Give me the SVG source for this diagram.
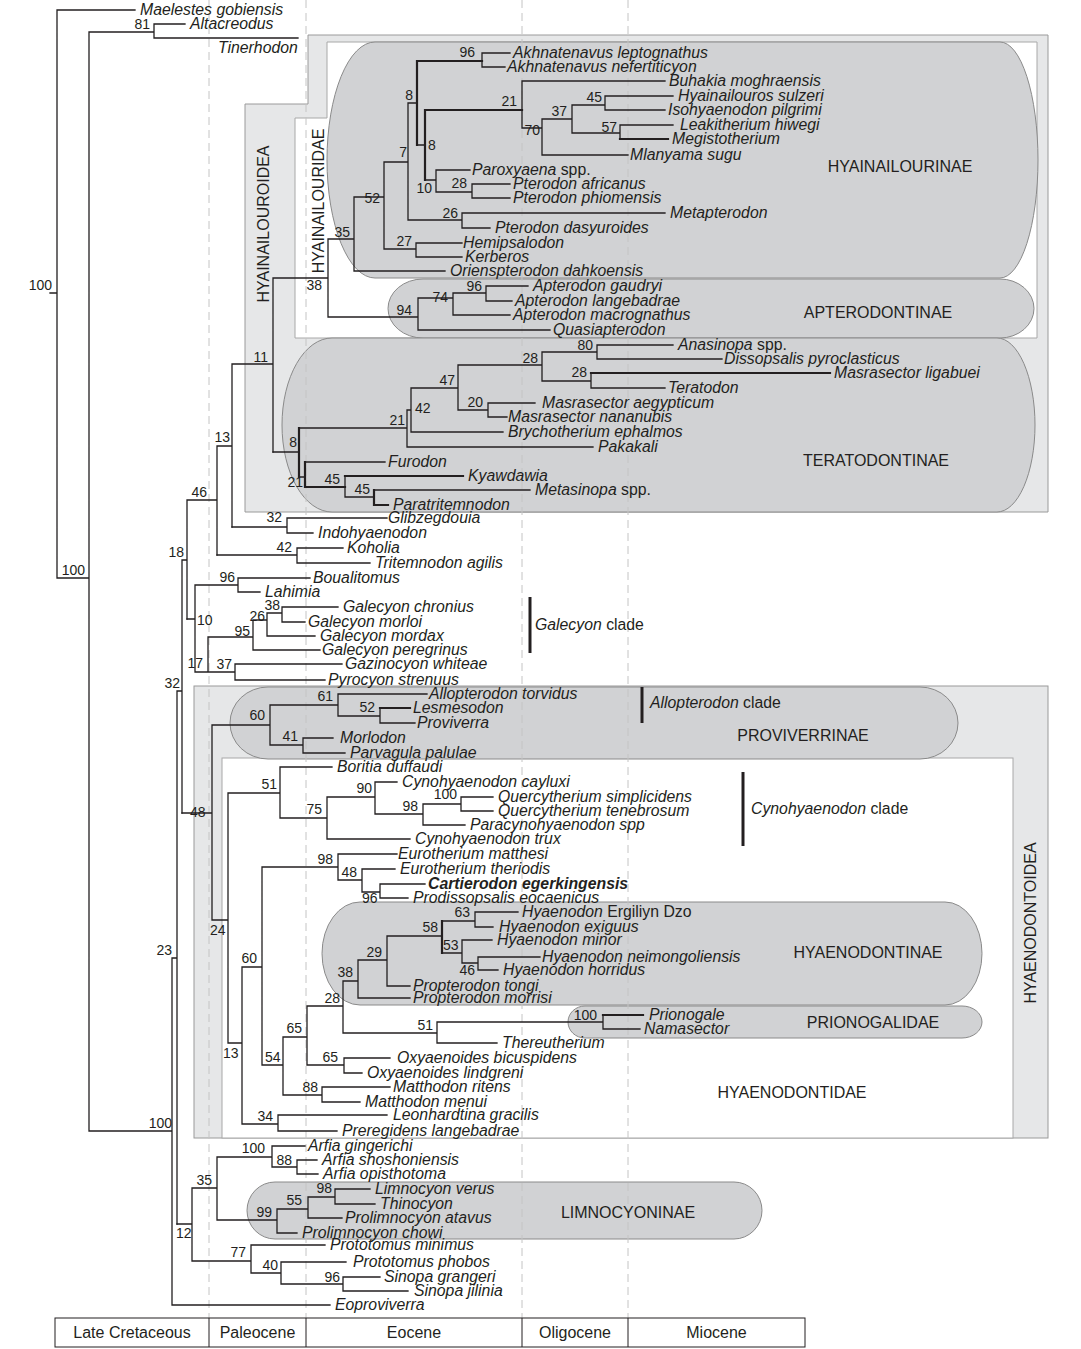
<svg xmlns="http://www.w3.org/2000/svg" width="1081" height="1349" viewBox="0 0 1081 1349">
<style>
.tx{font-family:"Liberation Sans",Arial,sans-serif;font-size:15.8px;font-style:italic;fill:#231f20}
.r{font-style:normal}
.n{font-family:"Liberation Sans",Arial,sans-serif;font-size:14px;fill:#231f20}
.ne{font-family:"Liberation Sans",Arial,sans-serif;font-size:14px;fill:#231f20;text-anchor:end}
.cl{font-family:"Liberation Sans",Arial,sans-serif;font-size:16px;fill:#231f20;text-anchor:middle}
.tb{font-family:"Liberation Sans",Arial,sans-serif;font-size:16px;fill:#231f20;text-anchor:middle}
.shape{fill:#d1d2d4;stroke:#8a8a8a;stroke-width:1}
.light{fill:#e6e7e8;stroke:#9a9a9a;stroke-width:1}
.white{fill:#ffffff;stroke:#a8a8a8;stroke-width:1}
.dash{stroke:#c4c4c4;stroke-width:1;stroke-dasharray:8 5;fill:none}
.br{fill:none;stroke:#231f20;stroke-width:1.3;stroke-linecap:square}
.thick{fill:none;stroke:#231f20;stroke-width:2.2;stroke-linecap:square}
.bar{stroke:#231f20;stroke-width:3}
</style>

<g id="boxes">
  <polygon id="box-hyainailouroidea" class="light" points="308,35 1048,35 1048,512 245,512 245,104 308,104"/>
  <polygon id="box-hyainailouridae" class="white" points="327,42 1037,42 1037,338 295,338 295,118 327,118"/>
  <rect id="box-hyaenodontoidea" class="light" x="194" y="686" width="854" height="452"/>
  <rect id="box-hyaenodontidae" class="white" x="222" y="758" width="791" height="380"/>
</g>

<g id="clade-shapes">
  <path id="shape-hyainailourinae" class="shape" d="M375,42H1000A38,118 0 0 1 1038,160A38,118 0 0 1 1000,278H375A48,118 0 0 1 327,160A48,118 0 0 1 375,42Z"/>
  <path id="shape-apterodontinae" class="shape" d="M423,279H1000A34,29.5 0 0 1 1034,308.5A34,29.5 0 0 1 1000,338H423A35,29.5 0 0 1 388,308.5A35,29.5 0 0 1 423,279Z"/>
  <path id="shape-teratodontinae" class="shape" d="M332,338H997A38,87 0 0 1 1035,425A38,87 0 0 1 997,512H332A50,87 0 0 1 282,425A50,87 0 0 1 332,338Z"/>
  <path id="shape-proviverrinae" class="shape" d="M268,687H920A38,36 0 0 1 958,723A38,36 0 0 1 920,759H268A38,36 0 0 1 230,723A38,36 0 0 1 268,687Z"/>
  <path id="shape-hyaenodontinae" class="shape" d="M360,902H945A37,51.5 0 0 1 982,953.5A37,51.5 0 0 1 945,1005H360A38,51.5 0 0 1 322,953.5A38,51.5 0 0 1 360,902Z"/>
  <path id="shape-prionogalidae" class="shape" d="M585,1006H962A20,16 0 0 1 982,1022A20,16 0 0 1 962,1038H585A17,16 0 0 1 568,1022A17,16 0 0 1 585,1006Z"/>
  <path id="shape-limnocyoninae" class="shape" d="M275,1182H734A28,28.5 0 0 1 762,1210.5A28,28.5 0 0 1 734,1239H275A28,28.5 0 0 1 247,1210.5A28,28.5 0 0 1 275,1182Z"/>
</g>

<g id="time-lines">
  <line class="dash" x1="209" y1="0" x2="209" y2="1318"/>
  <line class="dash" x1="306" y1="0" x2="306" y2="1318"/>
  <line class="dash" x1="522" y1="0" x2="522" y2="1318"/>
  <line class="dash" x1="628" y1="0" x2="628" y2="1318"/>
</g>

<g id="connectors">
  <path class="br" d="M57,10H135M50,293H57M57,10V578M57,578H89M89,32V1131M89,32H154M154,24V38M154,24H185M154,38H298M89,1131H172M172,958V1305M172,1305H330M172,958H177M177,691V1224M177,691H182M182,560V813M182,560H187M187,500V619M187,500H217M217,446V555M217,446H232M232,364V527M232,364H273M273,278V452M273,278H328M328,239V317M328,239H354M354,197V271M354,271H445M354,197H384M384,162V249M384,162H408M408,103V220M408,103H417M482,53V67M482,53H510M482,67H505M417,145H425M522,81V128M522,81H665M522,128H542M542,119V155M542,155H628M542,119H572M572,105V133M572,105H605M605,96V110M605,96H673M605,110H665M572,133H620M620,125V139M620,125H673M425,180H436M436,170V192M436,170H470M436,192H472M472,184V198M472,184H510M472,198H510M408,220H462M462,213V228M462,213H665M462,228H490M384,249H416M416,243V257M416,243H462M416,257H462M328,317H418M418,298V330M418,330H550M418,298H453M453,293V315M453,315H510M453,293H486M486,286V301M486,286H528M486,301H512"/>
  <path class="br" d="M273,452H299M299,428H407M407,410V447M407,447H593M407,410H411M411,388V432M411,432H503M411,388H458M458,365V410M458,365H542M542,352V381M542,352H597M597,345V359M597,345H673M597,359H722M542,381H591M591,373V388M591,388H665M458,410H488M488,403V417M488,403H535M488,417H507M299,477H305M305,462H385M345,476V497M345,497H374M374,490H530M232,527H287M287,518V533M287,518H387M287,533H313M217,555H297M297,548V563M297,548H343M297,563H370M187,619H195M195,585V672M195,585H238M238,578V592M238,578H310M238,592H260M195,672H235M208,637V672M208,637H253M253,620V650M253,650H320M253,620H267M267,613V636M267,636H315M267,613H282M282,607V622M282,607H338M282,622H305M235,664V680M235,664H342M235,680H325"/>
  <path class="br" d="M182,813H212M212,725V920M212,725H270M270,705V745M270,705H338M338,694V716M338,694H427M338,716H380M380,708V723M380,723H415M270,745H303M303,738V753M303,738H333M303,753H345M212,920H228M228,793V1043M228,793H280M280,767V818M280,767H332M280,818H327M327,797V839M327,839H410M327,797H375M375,782V814M375,782H397M375,814H423M423,804V825M423,825H465M423,804H461M461,797V811M461,797H493M461,811H493M228,1043H242M242,967V1124M242,967H262M262,867V1065M262,867H338M338,854V880M338,854H397M338,880H362M362,869V892M362,869H395M362,892H380M380,884V898M380,884H425M380,898H408M262,1065H283M283,1037V1095M283,1037H307M307,1006V1065M307,1006H343M343,981V1033M343,981H358M358,960V998M358,998H410M358,960H387M387,936V986M387,986H410M387,936H442M442,921H475M475,912V927M475,912H518M475,927H493M442,953H462M462,940V963M462,940H492M462,963H478M478,957V970M478,957H540M478,970H498M343,1033H437M437,1022V1043M437,1022H603M603,1015V1029M603,1029H640M437,1043H497M307,1065H344M344,1058V1073M344,1058H390M344,1073H362M283,1095H322M322,1087V1102M322,1087H390M322,1102H360M242,1124H278M278,1115V1131M278,1115H387M278,1131H337"/>
  <path class="br" d="M177,1224H192M192,1188V1261M192,1188H217M217,1157V1220M217,1157H272M272,1146V1167M272,1146H305M272,1167H297M297,1160V1174M297,1160H317M297,1174H318M217,1220H277M277,1209V1233M277,1209H308M308,1197V1218M308,1197H335M335,1189V1204M335,1189H370M335,1204H375M308,1218H342M277,1233H297M192,1261H251M251,1245V1273M251,1245H325M251,1273H281M281,1262V1284M281,1262H346M281,1284H343M343,1277V1291M343,1277H380M343,1291H408"/>
  <path class="thick" d="M417,61V145M417,61H482M425,110V180M425,110H522M620,139H668M591,373H830M299,428V477M305,462V487M305,487H345M345,476H463M374,490V505M374,505H388M380,708H410M442,921V953M603,1015H643"/>
</g>

<g id="clade-bars">
  <line class="bar" x1="530" y1="597" x2="530" y2="653"/>
  <line class="bar" x1="642" y1="687" x2="642" y2="723"/>
  <line class="bar" x1="743" y1="772" x2="743" y2="846"/>
</g>

<g id="support-values">
  <text class="ne" x="150" y="29">81</text>
  <text class="ne" x="52" y="290">100</text>
  <text class="ne" x="85" y="575">100</text>
  <text class="ne" x="172" y="1128">100</text>
  <text class="ne" x="172" y="955">23</text>
  <text class="ne" x="180" y="688">32</text>
  <text class="ne" x="184" y="557">18</text>
  <text class="ne" x="207" y="497">46</text>
  <text class="ne" x="230" y="442">13</text>
  <text class="ne" x="268" y="362">11</text>
  <text class="ne" x="322" y="290">38</text>
  <text class="ne" x="350" y="237">35</text>
  <text class="ne" x="380" y="203">52</text>
  <text class="ne" x="407" y="157">7</text>
  <text class="ne" x="413" y="100">8</text>
  <text class="n" x="428" y="150">8</text>
  <text class="ne" x="475" y="57">96</text>
  <text class="ne" x="517" y="106">21</text>
  <text class="ne" x="540" y="135">70</text>
  <text class="ne" x="567" y="116">37</text>
  <text class="ne" x="602" y="102">45</text>
  <text class="ne" x="617" y="132">57</text>
  <text class="ne" x="432" y="193">10</text>
  <text class="ne" x="467" y="188">28</text>
  <text class="ne" x="458" y="218">26</text>
  <text class="ne" x="412" y="246">27</text>
  <text class="ne" x="412" y="315">94</text>
  <text class="ne" x="448" y="302">74</text>
  <text class="ne" x="482" y="291">96</text>
  <text class="ne" x="297" y="447">8</text>
  <text class="ne" x="405" y="425">21</text>
  <text class="n" x="415" y="413">42</text>
  <text class="ne" x="455" y="385">47</text>
  <text class="ne" x="538" y="363">28</text>
  <text class="ne" x="593" y="350">80</text>
  <text class="ne" x="587" y="377">28</text>
  <text class="ne" x="483" y="407">20</text>
  <text class="ne" x="303" y="487">21</text>
  <text class="ne" x="340" y="484">45</text>
  <text class="ne" x="370" y="494">45</text>
  <text class="ne" x="282" y="522">32</text>
  <text class="ne" x="292" y="552">42</text>
  <text class="ne" x="235" y="582">96</text>
  <text class="n" x="197" y="625">10</text>
  <text class="ne" x="280" y="610">38</text>
  <text class="ne" x="265" y="621">26</text>
  <text class="ne" x="250" y="636">95</text>
  <text class="ne" x="203" y="668">17</text>
  <text class="ne" x="232" y="669">37</text>
  <text class="n" x="190" y="817">48</text>
  <text class="ne" x="265" y="720">60</text>
  <text class="ne" x="333" y="701">61</text>
  <text class="ne" x="375" y="712">52</text>
  <text class="ne" x="298" y="741">41</text>
  <text class="ne" x="277" y="789">51</text>
  <text class="ne" x="322" y="814">75</text>
  <text class="ne" x="372" y="793">90</text>
  <text class="ne" x="418" y="811">98</text>
  <text class="ne" x="457" y="799">100</text>
  <text class="ne" x="333" y="864">98</text>
  <text class="n" x="210" y="935">24</text>
  <text class="ne" x="357" y="877">48</text>
  <text class="n" x="362" y="903">96</text>
  <text class="ne" x="470" y="917">63</text>
  <text class="ne" x="438" y="932">58</text>
  <text class="n" x="443" y="950">53</text>
  <text class="ne" x="475" y="975">46</text>
  <text class="ne" x="382" y="957">29</text>
  <text class="ne" x="353" y="977">38</text>
  <text class="ne" x="340" y="1003">28</text>
  <text class="ne" x="257" y="963">60</text>
  <text class="ne" x="597" y="1020">100</text>
  <text class="ne" x="433" y="1030">51</text>
  <text class="ne" x="302" y="1033">65</text>
  <text class="n" x="223" y="1058">13</text>
  <text class="n" x="265" y="1062">54</text>
  <text class="ne" x="338" y="1062">65</text>
  <text class="ne" x="318" y="1092">88</text>
  <text class="ne" x="273" y="1121">34</text>
  <text class="ne" x="265" y="1153">100</text>
  <text class="ne" x="292" y="1165">88</text>
  <text class="ne" x="212" y="1185">35</text>
  <text class="ne" x="332" y="1193">98</text>
  <text class="ne" x="302" y="1205">55</text>
  <text class="ne" x="272" y="1217">99</text>
  <text class="n" x="176" y="1238">12</text>
  <text class="ne" x="246" y="1257">77</text>
  <text class="ne" x="278" y="1270">40</text>
  <text class="ne" x="340" y="1282">96</text>
</g>

<g id="taxa">
  <g id="t-maelestes"><text class="tx" x="140" y="15">Maelestes gobiensis</text></g>
  <g id="t-altacreodus"><text class="tx" x="190" y="29">Altacreodus</text></g>
  <g id="t-tinerhodon"><text class="tx" x="218" y="53">Tinerhodon</text></g>
  <g id="t-akh-lep"><text class="tx" x="513" y="58">Akhnatenavus leptognathus</text></g>
  <g id="t-akh-nef"><text class="tx" x="507" y="72">Akhnatenavus nefertiticyon</text></g>
  <g id="t-buhakia"><text class="tx" x="669" y="86">Buhakia moghraensis</text></g>
  <g id="t-hyainailouros"><text class="tx" x="678" y="101">Hyainailouros sulzeri</text></g>
  <g id="t-isohyaenodon"><text class="tx" x="668" y="115">Isohyaenodon pilgrimi</text></g>
  <g id="t-leakitherium"><text class="tx" x="680" y="130">Leakitherium hiwegi</text></g>
  <g id="t-megistotherium"><text class="tx" x="672" y="144">Megistotherium</text></g>
  <g id="t-mlanyama"><text class="tx" x="630" y="160">Mlanyama sugu</text></g>
  <g id="t-paroxyaena"><text class="tx" x="472" y="175">Paroxyaena<tspan class="r"> spp.</tspan></text></g>
  <g id="t-pter-afr"><text class="tx" x="513" y="189">Pterodon africanus</text></g>
  <g id="t-pter-phi"><text class="tx" x="513" y="203">Pterodon phiomensis</text></g>
  <g id="t-metapterodon"><text class="tx" x="670" y="218">Metapterodon</text></g>
  <g id="t-pter-das"><text class="tx" x="495" y="233">Pterodon dasyuroides</text></g>
  <g id="t-hemipsalodon"><text class="tx" x="463" y="248">Hemipsalodon</text></g>
  <g id="t-kerberos"><text class="tx" x="465" y="262">Kerberos</text></g>
  <g id="t-orienspterodon"><text class="tx" x="450" y="276">Orienspterodon dahkoensis</text></g>
  <g id="t-apt-gau"><text class="tx" x="533" y="291">Apterodon gaudryi</text></g>
  <g id="t-apt-lan"><text class="tx" x="515" y="306">Apterodon langebadrae</text></g>
  <g id="t-apt-mac"><text class="tx" x="513" y="320">Apterodon macrognathus</text></g>
  <g id="t-quasiapterodon"><text class="tx" x="553" y="335">Quasiapterodon</text></g>
  <g id="t-anasinopa"><text class="tx" x="678" y="350">Anasinopa<tspan class="r"> spp.</tspan></text></g>
  <g id="t-dissopsalis"><text class="tx" x="724" y="364">Dissopsalis pyroclasticus</text></g>
  <g id="t-mas-lig"><text class="tx" x="834" y="378">Masrasector ligabuei</text></g>
  <g id="t-teratodon"><text class="tx" x="668" y="393">Teratodon</text></g>
  <g id="t-mas-aeg"><text class="tx" x="542" y="408">Masrasector aegypticum</text></g>
  <g id="t-mas-nan"><text class="tx" x="508" y="422">Masrasector nananubis</text></g>
  <g id="t-brychotherium"><text class="tx" x="508" y="437">Brychotherium ephalmos</text></g>
  <g id="t-pakakali"><text class="tx" x="598" y="452">Pakakali</text></g>
  <g id="t-furodon"><text class="tx" x="388" y="467">Furodon</text></g>
  <g id="t-kyawdawia"><text class="tx" x="468" y="481">Kyawdawia</text></g>
  <g id="t-metasinopa"><text class="tx" x="535" y="495">Metasinopa<tspan class="r"> spp.</tspan></text></g>
  <g id="t-paratritemnodon"><text class="tx" x="393" y="510">Paratritemnodon</text></g>
  <g id="t-glibzegdouia"><text class="tx" x="388" y="523">Glibzegdouia</text></g>
  <g id="t-indohyaenodon"><text class="tx" x="318" y="538">Indohyaenodon</text></g>
  <g id="t-koholia"><text class="tx" x="347" y="553">Koholia</text></g>
  <g id="t-tritemnodon"><text class="tx" x="375" y="568">Tritemnodon agilis</text></g>
  <g id="t-boualitomus"><text class="tx" x="313" y="583">Boualitomus</text></g>
  <g id="t-lahimia"><text class="tx" x="265" y="597">Lahimia</text></g>
  <g id="t-gal-chr"><text class="tx" x="343" y="612">Galecyon chronius</text></g>
  <g id="t-gal-mor"><text class="tx" x="308" y="627">Galecyon morloi</text></g>
  <g id="t-gal-mdx"><text class="tx" x="320" y="641">Galecyon mordax</text></g>
  <g id="t-gal-per"><text class="tx" x="322" y="655">Galecyon peregrinus</text></g>
  <g id="t-gazinocyon"><text class="tx" x="345" y="669">Gazinocyon whiteae</text></g>
  <g id="t-pyrocyon"><text class="tx" x="328" y="685">Pyrocyon strenuus</text></g>
  <g id="t-allopterodon"><text class="tx" x="429" y="699">Allopterodon torvidus</text></g>
  <g id="t-lesmesodon"><text class="tx" x="413" y="713">Lesmesodon</text></g>
  <g id="t-proviverra"><text class="tx" x="417" y="728">Proviverra</text></g>
  <g id="t-morlodon"><text class="tx" x="340" y="743">Morlodon</text></g>
  <g id="t-parvagula"><text class="tx" x="350" y="758">Parvagula palulae</text></g>
  <g id="t-boritia"><text class="tx" x="337" y="772">Boritia duffaudi</text></g>
  <g id="t-cyn-cay"><text class="tx" x="402" y="787">Cynohyaenodon cayluxi</text></g>
  <g id="t-que-sim"><text class="tx" x="498" y="802">Quercytherium simplicidens</text></g>
  <g id="t-que-ten"><text class="tx" x="498" y="816">Quercytherium tenebrosum</text></g>
  <g id="t-paracynohyaenodon"><text class="tx" x="470" y="830">Paracynohyaenodon spp</text></g>
  <g id="t-cyn-tru"><text class="tx" x="415" y="844">Cynohyaenodon trux</text></g>
  <g id="t-eur-mat"><text class="tx" x="398" y="859">Eurotherium matthesi</text></g>
  <g id="t-eur-the"><text class="tx" x="400" y="874">Eurotherium theriodis</text></g>
  <g id="t-cartierodon"><text class="tx" x="428" y="889" font-weight="bold">Cartierodon egerkingensis</text></g>
  <g id="t-prodissopsalis"><text class="tx" x="413" y="903">Prodissopsalis eocaenicus</text></g>
  <g id="t-hya-erg"><text class="tx" x="522" y="917">Hyaenodon<tspan class="r"> Ergiliyn Dzo</tspan></text></g>
  <g id="t-hya-exi"><text class="tx" x="499" y="932">Hyaenodon exiguus</text></g>
  <g id="t-hya-min"><text class="tx" x="497" y="945">Hyaenodon minor</text></g>
  <g id="t-hya-nei"><text class="tx" x="542" y="962">Hyaenodon neimongoliensis</text></g>
  <g id="t-hya-hor"><text class="tx" x="503" y="975">Hyaenodon horridus</text></g>
  <g id="t-pro-ton"><text class="tx" x="413" y="991">Propterodon tongi</text></g>
  <g id="t-pro-mor"><text class="tx" x="413" y="1003">Propterodon morrisi</text></g>
  <g id="t-prionogale"><text class="tx" x="649" y="1020">Prionogale</text></g>
  <g id="t-namasector"><text class="tx" x="644" y="1034">Namasector</text></g>
  <g id="t-thereutherium"><text class="tx" x="502" y="1048">Thereutherium</text></g>
  <g id="t-oxy-bic"><text class="tx" x="397" y="1063">Oxyaenoides bicuspidens</text></g>
  <g id="t-oxy-lin"><text class="tx" x="367" y="1078">Oxyaenoides lindgreni</text></g>
  <g id="t-mat-rit"><text class="tx" x="393" y="1092">Matthodon ritens</text></g>
  <g id="t-mat-men"><text class="tx" x="365" y="1107">Matthodon menui</text></g>
  <g id="t-leonhardtina"><text class="tx" x="393" y="1120">Leonhardtina gracilis</text></g>
  <g id="t-preregidens"><text class="tx" x="342" y="1136">Preregidens langebadrae</text></g>
  <g id="t-arf-gin"><text class="tx" x="308" y="1151">Arfia gingerichi</text></g>
  <g id="t-arf-sho"><text class="tx" x="322" y="1165">Arfia shoshoniensis</text></g>
  <g id="t-arf-opi"><text class="tx" x="323" y="1179">Arfia opisthotoma</text></g>
  <g id="t-limnocyon"><text class="tx" x="375" y="1194">Limnocyon verus</text></g>
  <g id="t-thinocyon"><text class="tx" x="380" y="1209">Thinocyon</text></g>
  <g id="t-pro-ata"><text class="tx" x="345" y="1223">Prolimnocyon atavus</text></g>
  <g id="t-pro-cho"><text class="tx" x="302" y="1238">Prolimnocyon chowi</text></g>
  <g id="t-prot-min"><text class="tx" x="330" y="1250">Prototomus minimus</text></g>
  <g id="t-prot-pho"><text class="tx" x="353" y="1267">Prototomus phobos</text></g>
  <g id="t-sin-gra"><text class="tx" x="384" y="1282">Sinopa grangeri</text></g>
  <g id="t-sin-jil"><text class="tx" x="414" y="1296">Sinopa jilinia</text></g>
  <g id="t-eoproviverra"><text class="tx" x="335" y="1310">Eoproviverra</text></g>
</g>

<g id="clade-labels">
  <text class="cl" x="900" y="172">HYAINAILOURINAE</text>
  <text class="cl" x="878" y="318">APTERODONTINAE</text>
  <text class="cl" x="876" y="466">TERATODONTINAE</text>
  <text class="cl" x="803" y="741">PROVIVERRINAE</text>
  <text class="cl" x="868" y="958">HYAENODONTINAE</text>
  <text class="cl" x="873" y="1028">PRIONOGALIDAE</text>
  <text class="cl" x="792" y="1098">HYAENODONTIDAE</text>
  <text class="cl" x="628" y="1218">LIMNOCYONINAE</text>
  <text class="cl" transform="translate(268.5,224) rotate(-90)" font-size="19">HYAINAILOUROIDEA</text>
  <text class="cl" transform="translate(323.5,201) rotate(-90)">HYAINAILOURIDAE</text>
  <text class="cl" transform="translate(1035.5,923) rotate(-90)">HYAENODONTOIDEA</text>
  <text class="tx" x="535" y="630"><tspan>Galecyon</tspan><tspan class="r"> clade</tspan></text>
  <text class="tx" x="650" y="708"><tspan>Allopterodon</tspan><tspan class="r"> clade</tspan></text>
  <text class="tx" x="751" y="814"><tspan>Cynohyaenodon</tspan><tspan class="r"> clade</tspan></text>
</g>

<g id="timescale">
  <rect x="55" y="1318" width="750" height="29" fill="#ffffff" stroke="#231f20" stroke-width="1"/>
  <line x1="209" y1="1318" x2="209" y2="1347" stroke="#231f20" stroke-width="1"/>
  <line x1="306" y1="1318" x2="306" y2="1347" stroke="#231f20" stroke-width="1"/>
  <line x1="522" y1="1318" x2="522" y2="1347" stroke="#231f20" stroke-width="1"/>
  <line x1="628" y1="1318" x2="628" y2="1347" stroke="#231f20" stroke-width="1"/>
  <text class="tb" x="132" y="1338">Late Cretaceous</text>
  <text class="tb" x="257.5" y="1338">Paleocene</text>
  <text class="tb" x="414" y="1338">Eocene</text>
  <text class="tb" x="575" y="1338">Oligocene</text>
  <text class="tb" x="716.5" y="1338">Miocene</text>
</g>
</svg>
